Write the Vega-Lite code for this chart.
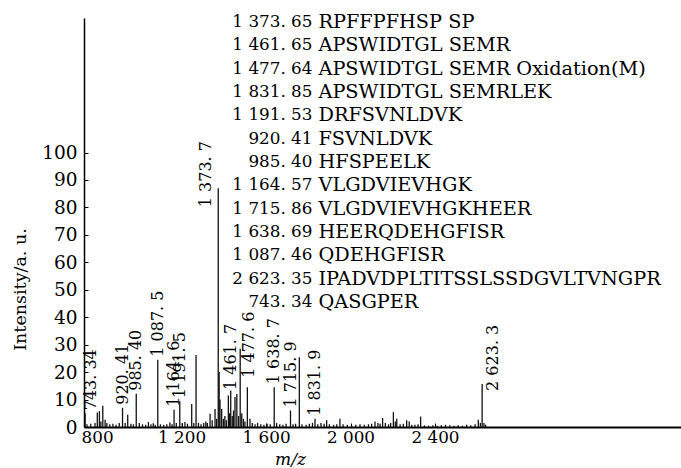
{
  "$schema": "https://vega.github.io/schema/vega-lite/v6.json",
  "width": 597,
  "height": 409,
  "autosize": {"type": "none"},
  "padding": {"left": 84, "top": 18, "right": 0, "bottom": 41},
  "background": "white",
  "config": {"view": {"stroke": null}, "font": "DejaVu Serif"},
  "datasets": {
    "peaks": [
      {"mz": 743.34, "intensity": 5.0, "label": "743. 34"},
      {"mz": 752, "intensity": 1.0},
      {"mz": 770, "intensity": 1.2},
      {"mz": 790, "intensity": 1.5},
      {"mz": 801, "intensity": 5.3},
      {"mz": 811, "intensity": 5.8},
      {"mz": 818, "intensity": 2.0},
      {"mz": 827, "intensity": 7.7},
      {"mz": 838, "intensity": 2.6},
      {"mz": 846, "intensity": 1.5},
      {"mz": 860, "intensity": 1.0},
      {"mz": 875, "intensity": 1.2},
      {"mz": 890, "intensity": 0.8},
      {"mz": 905, "intensity": 1.5},
      {"mz": 920.41, "intensity": 7.0, "label": "920. 41"},
      {"mz": 933, "intensity": 1.5},
      {"mz": 945, "intensity": 4.5},
      {"mz": 960, "intensity": 1.2},
      {"mz": 972, "intensity": 1.0},
      {"mz": 985.40, "intensity": 12.1, "label": "985. 40"},
      {"mz": 1000, "intensity": 1.5},
      {"mz": 1015, "intensity": 1.0},
      {"mz": 1030, "intensity": 0.8},
      {"mz": 1043, "intensity": 1.8},
      {"mz": 1055, "intensity": 1.0},
      {"mz": 1066, "intensity": 1.4},
      {"mz": 1075, "intensity": 0.8},
      {"mz": 1087.46, "intensity": 24.5, "label": "1 087. 5"},
      {"mz": 1100, "intensity": 1.0},
      {"mz": 1115, "intensity": 0.8},
      {"mz": 1130, "intensity": 1.0},
      {"mz": 1145, "intensity": 1.6},
      {"mz": 1155, "intensity": 1.0},
      {"mz": 1164.57, "intensity": 6.3, "label": "1 164. 6"},
      {"mz": 1175, "intensity": 1.5},
      {"mz": 1191.53, "intensity": 9.4, "label": "1 191. 5"},
      {"mz": 1203, "intensity": 1.5},
      {"mz": 1216, "intensity": 1.8},
      {"mz": 1228, "intensity": 1.2},
      {"mz": 1248, "intensity": 8.4},
      {"mz": 1258, "intensity": 1.5},
      {"mz": 1268.6, "intensity": 26.2},
      {"mz": 1280, "intensity": 1.5},
      {"mz": 1292, "intensity": 1.0},
      {"mz": 1305, "intensity": 1.5},
      {"mz": 1315, "intensity": 2.0},
      {"mz": 1322, "intensity": 1.5},
      {"mz": 1335, "intensity": 4.8},
      {"mz": 1345, "intensity": 2.5},
      {"mz": 1358.5, "intensity": 6.6},
      {"mz": 1366, "intensity": 3.0},
      {"mz": 1373.65, "intensity": 87.0, "label": "1 373. 7"},
      {"mz": 1378, "intensity": 20.0},
      {"mz": 1382, "intensity": 10.0},
      {"mz": 1390, "intensity": 6.6},
      {"mz": 1398, "intensity": 3.0},
      {"mz": 1405, "intensity": 4.0},
      {"mz": 1412, "intensity": 2.5},
      {"mz": 1421.6, "intensity": 11.5},
      {"mz": 1427, "intensity": 5.0},
      {"mz": 1432.8, "intensity": 13.3},
      {"mz": 1440, "intensity": 4.0},
      {"mz": 1446, "intensity": 6.0},
      {"mz": 1453, "intensity": 10.9},
      {"mz": 1461.65, "intensity": 12.0, "label": "1 461. 7"},
      {"mz": 1470, "intensity": 4.0},
      {"mz": 1477.64, "intensity": 28.5, "label": "1 477. 6"},
      {"mz": 1485, "intensity": 5.0},
      {"mz": 1493, "intensity": 3.0},
      {"mz": 1500, "intensity": 2.0},
      {"mz": 1511.5, "intensity": 14.5},
      {"mz": 1524, "intensity": 3.0},
      {"mz": 1535, "intensity": 1.5},
      {"mz": 1548, "intensity": 1.0},
      {"mz": 1560, "intensity": 1.5},
      {"mz": 1575, "intensity": 1.0},
      {"mz": 1590, "intensity": 0.8},
      {"mz": 1605, "intensity": 1.2},
      {"mz": 1620, "intensity": 1.0},
      {"mz": 1638.69, "intensity": 14.5, "label": "1 638. 7"},
      {"mz": 1650, "intensity": 1.5},
      {"mz": 1665, "intensity": 1.0},
      {"mz": 1680, "intensity": 0.8},
      {"mz": 1695, "intensity": 1.2},
      {"mz": 1715.86, "intensity": 6.0, "label": "1 715. 9"},
      {"mz": 1728, "intensity": 1.0},
      {"mz": 1740, "intensity": 1.2},
      {"mz": 1757.6, "intensity": 25.4},
      {"mz": 1770, "intensity": 1.0},
      {"mz": 1790, "intensity": 0.8},
      {"mz": 1805, "intensity": 1.2},
      {"mz": 1820, "intensity": 1.5},
      {"mz": 1831.85, "intensity": 3.0, "label": "1 831. 9"},
      {"mz": 1845, "intensity": 1.0},
      {"mz": 1860, "intensity": 1.5},
      {"mz": 1875, "intensity": 1.2},
      {"mz": 1887, "intensity": 2.5},
      {"mz": 1900, "intensity": 1.0},
      {"mz": 1920, "intensity": 0.8},
      {"mz": 1935, "intensity": 1.0},
      {"mz": 1950, "intensity": 3.0},
      {"mz": 1965, "intensity": 1.0},
      {"mz": 1985, "intensity": 0.8},
      {"mz": 2005, "intensity": 0.6},
      {"mz": 2025, "intensity": 0.8},
      {"mz": 2045, "intensity": 1.0},
      {"mz": 2065, "intensity": 0.8},
      {"mz": 2085, "intensity": 1.0},
      {"mz": 2100, "intensity": 1.2},
      {"mz": 2116, "intensity": 2.0},
      {"mz": 2130, "intensity": 1.5},
      {"mz": 2140, "intensity": 1.2},
      {"mz": 2152, "intensity": 3.3},
      {"mz": 2165, "intensity": 1.5},
      {"mz": 2180, "intensity": 1.0},
      {"mz": 2190, "intensity": 1.5},
      {"mz": 2203, "intensity": 5.4},
      {"mz": 2212, "intensity": 2.0},
      {"mz": 2219, "intensity": 3.0},
      {"mz": 2235, "intensity": 1.0},
      {"mz": 2250, "intensity": 1.2},
      {"mz": 2266, "intensity": 2.5},
      {"mz": 2278, "intensity": 2.0},
      {"mz": 2290, "intensity": 0.8},
      {"mz": 2305, "intensity": 0.8},
      {"mz": 2320, "intensity": 1.0},
      {"mz": 2332, "intensity": 3.8},
      {"mz": 2350, "intensity": 0.6},
      {"mz": 2370, "intensity": 0.5},
      {"mz": 2390, "intensity": 0.6},
      {"mz": 2410, "intensity": 0.5},
      {"mz": 2430, "intensity": 0.6},
      {"mz": 2450, "intensity": 0.8},
      {"mz": 2470, "intensity": 0.6},
      {"mz": 2490, "intensity": 0.5},
      {"mz": 2510, "intensity": 0.6},
      {"mz": 2530, "intensity": 0.5},
      {"mz": 2550, "intensity": 0.8},
      {"mz": 2570, "intensity": 0.6},
      {"mz": 2590, "intensity": 1.0},
      {"mz": 2605, "intensity": 2.6},
      {"mz": 2615, "intensity": 1.5},
      {"mz": 2623.35, "intensity": 15.7, "label": "2 623. 3"},
      {"mz": 2632, "intensity": 1.5},
      {"mz": 2640, "intensity": 0.8}
    ],
    "table": [
      {"row": 1, "mass": "1 373. 65", "peptide": "RPFFPFHSP SP"},
      {"row": 2, "mass": "1 461. 65", "peptide": "APSWIDTGL SEMR"},
      {"row": 3, "mass": "1 477. 64", "peptide": "APSWIDTGL SEMR Oxidation(M)"},
      {"row": 4, "mass": "1 831. 85", "peptide": "APSWIDTGL SEMRLEK"},
      {"row": 5, "mass": "1 191. 53", "peptide": "DRFSVNLDVK"},
      {"row": 6, "mass": "920. 41", "peptide": "FSVNLDVK"},
      {"row": 7, "mass": "985. 40", "peptide": "HFSPEELK"},
      {"row": 8, "mass": "1 164. 57", "peptide": "VLGDVIEVHGK"},
      {"row": 9, "mass": "1 715. 86", "peptide": "VLGDVIEVHGKHEER"},
      {"row": 10, "mass": "1 638. 69", "peptide": "HEERQDEHGFISR"},
      {"row": 11, "mass": "1 087. 46", "peptide": "QDEHGFISR"},
      {"row": 12, "mass": "2 623. 35", "peptide": "IPADVDPLTITSSLSSDGVLTVNGPR"},
      {"row": 13, "mass": "743. 34", "peptide": "QASGPER"}
    ]
  },
  "layer": [
    {
      "data": {"name": "peaks"},
      "layer": [
        {
          "mark": {"type": "rule", "color": "#111111", "strokeWidth": 1.3},
          "encoding": {
            "x": {
              "field": "mz", "type": "quantitative",
              "scale": {"domain": [738, 3565], "nice": false, "zero": false},
              "axis": {
                "values": [800, 1200, 1600, 2000, 2400],
                "labelExpr": "replace(format(datum.value, ',d'), ',', ' ')",
                "title": "m/z",
                "titleFont": "DejaVu Serif", "titleFontStyle": "italic", "titleFontWeight": "normal",
                "titleFontSize": 17, "titleColor": "black",
                "titleX": 206, "titleY": 24, "titleBaseline": "top", "titleAlign": "center",
                "labelFont": "DejaVu Serif", "labelFontSize": 16.8, "labelColor": "black",
                "labelPadding": 6, "tickSize": -4, "tickColor": "black",
                "domainColor": "black", "domainWidth": 2, "grid": false, "labelFlush": false
              }
            },
            "y": {
              "field": "intensity", "type": "quantitative",
              "scale": {"domain": [0, 149], "nice": false},
              "axis": {
                "values": [0, 10, 20, 30, 40, 50, 60, 70, 80, 90, 100],
                "title": "Intensity/a. u.",
                "titleFont": "DejaVu Serif", "titleFontWeight": "normal", "titleFontSize": 17.5, "titleColor": "black",
                "titleX": -64, "titleY": 271, "titleAngle": 270, "titleBaseline": "middle", "titleAlign": "center",
                "labelFont": "DejaVu Serif", "labelFontSize": 18.5, "labelColor": "black",
                "labelPadding": 11, "tickSize": -4, "tickColor": "black",
                "domainColor": "black", "domainWidth": 1.5, "grid": false
              }
            },
            "y2": {"datum": 0}
          }
        },
        {
          "transform": [{"filter": {"field": "label", "oneOf": ["920. 41", "985. 40", "1 087. 5", "1 164. 6", "1 191. 5", "1 638. 7", "1 715. 9", "1 831. 9"]}}],
          "mark": {"type": "text", "angle": 270, "align": "left", "baseline": "middle", "font": "DejaVu Serif", "fontSize": 16, "color": "black", "dx": 3, "dy": 0},
          "encoding": {
            "x": {"field": "mz", "type": "quantitative"},
            "y": {"field": "intensity", "type": "quantitative"},
            "text": {"field": "label"}
          }
        },
        {
          "transform": [{"filter": {"field": "label", "equal": "743. 34"}}],
          "mark": {"type": "text", "angle": 270, "align": "left", "baseline": "middle", "font": "DejaVu Serif", "fontSize": 16, "color": "black", "dx": 3, "dy": 6},
          "encoding": {
            "x": {"field": "mz", "type": "quantitative"},
            "y": {"field": "intensity", "type": "quantitative"},
            "text": {"field": "label"}
          }
        },
        {
          "transform": [{"filter": {"field": "label", "equal": "1 373. 7"}}],
          "mark": {"type": "text", "angle": 270, "align": "left", "baseline": "middle", "font": "DejaVu Serif", "fontSize": 16, "color": "black", "dx": -19, "dy": -12},
          "encoding": {
            "x": {"field": "mz", "type": "quantitative"},
            "y": {"field": "intensity", "type": "quantitative"},
            "text": {"field": "label"}
          }
        },
        {
          "transform": [{"filter": {"field": "label", "equal": "1 461. 7"}}],
          "mark": {"type": "text", "angle": 270, "align": "left", "baseline": "middle", "font": "DejaVu Serif", "fontSize": 16, "color": "black", "dx": 4, "dy": -6},
          "encoding": {
            "x": {"field": "mz", "type": "quantitative"},
            "y": {"field": "intensity", "type": "quantitative"},
            "text": {"field": "label"}
          }
        },
        {
          "transform": [{"filter": {"field": "label", "equal": "1 477. 6"}}],
          "mark": {"type": "text", "angle": 270, "align": "left", "baseline": "middle", "font": "DejaVu Serif", "fontSize": 16, "color": "black", "dx": -29, "dy": 9},
          "encoding": {
            "x": {"field": "mz", "type": "quantitative"},
            "y": {"field": "intensity", "type": "quantitative"},
            "text": {"field": "label"}
          }
        },
        {
          "transform": [{"filter": {"field": "label", "equal": "2 623. 3"}}],
          "mark": {"type": "text", "angle": 270, "align": "left", "baseline": "middle", "font": "DejaVu Serif", "fontSize": 16, "color": "black", "dx": -7, "dy": 11},
          "encoding": {
            "x": {"field": "mz", "type": "quantitative"},
            "y": {"field": "intensity", "type": "quantitative"},
            "text": {"field": "label"}
          }
        }
      ]
    },
    {
      "data": {"name": "table"},
      "layer": [
        {
          "mark": {"type": "text", "align": "right", "baseline": "middle", "font": "DejaVu Serif", "fontSize": 16.8, "color": "black", "dx": -3},
          "encoding": {
            "x": {"datum": 1834, "type": "quantitative", "scale": {"domain": [738, 3565], "nice": false, "zero": false}},
            "y": {"field": "row", "type": "ordinal", "scale": {"type": "point", "range": [4, 284], "padding": 0}, "axis": null},
            "text": {"field": "mass"}
          }
        },
        {
          "mark": {"type": "text", "align": "left", "baseline": "middle", "font": "DejaVu Serif", "fontSize": 19.3, "color": "black", "dx": 3},
          "encoding": {
            "x": {"datum": 1834, "type": "quantitative"},
            "y": {"field": "row", "type": "ordinal", "scale": {"type": "point", "range": [4, 284], "padding": 0}, "axis": null},
            "text": {"field": "peptide"}
          }
        }
      ]
    }
  ],
  "resolve": {"scale": {"y": "independent"}}
}
